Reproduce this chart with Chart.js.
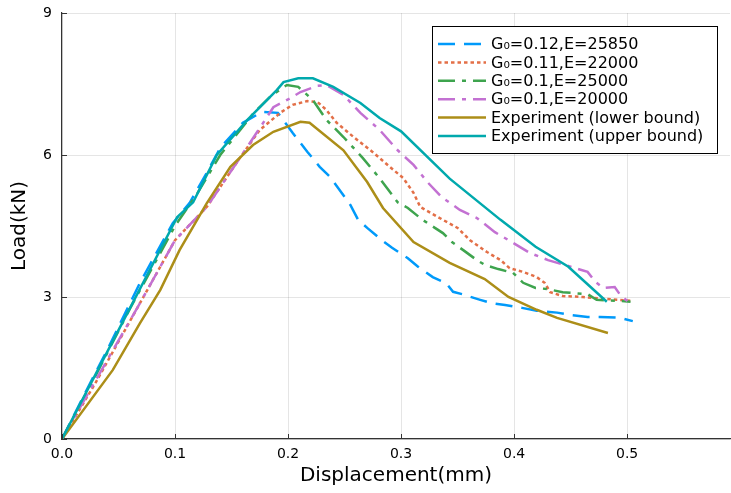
<!DOCTYPE html>
<html>
<head>
<meta charset="utf-8">
<script src="https://cdn.jsdelivr.net/npm/chart.js@4/dist/chart.umd.min.js"></script>
<style>
html,body{margin:0;padding:0;background:#fff;}
#c{display:block;}
</style>
</head>
<body>
<canvas id="c" width="731" height="493"></canvas>
<script>
// ---- data ----
const seriesNames = ["G₀=0.12,E=25850", "G₀=0.11,E=22000", "G₀=0.1,E=25000", "G₀=0.1,E=20000", "Experiment (lower bound)", "Experiment (upper bound)"];

const blueX = [0, 0.02, 0.04, 0.069, 0.098, 0.113, 0.128, 0.14, 0.16, 0.177, 0.191, 0.204, 0.217, 0.228, 0.237, 0.255, 0.262, 0.27, 0.283, 0.292, 0.306, 0.315, 0.328, 0.34, 0.346, 0.354, 0.37, 0.38, 0.392, 0.407, 0.42, 0.438, 0.45, 0.465, 0.476, 0.494, 0.505];
const blueY = [0, 0.95, 1.88, 3.3, 4.56, 4.99, 5.62, 6.15, 6.68, 6.91, 6.89, 6.47, 6.07, 5.75, 5.54, 4.95, 4.63, 4.46, 4.2, 4.04, 3.82, 3.64, 3.42, 3.29, 3.11, 3.06, 2.94, 2.87, 2.83, 2.77, 2.71, 2.67, 2.62, 2.58, 2.58, 2.56, 2.49];

const orangeX = [0, 0.03, 0.069, 0.1, 0.128, 0.158, 0.175, 0.193, 0.204, 0.217, 0.226, 0.234, 0.243, 0.258, 0.275, 0.29, 0.302, 0.311, 0.317, 0.326, 0.337, 0.35, 0.361, 0.376, 0.388, 0.396, 0.408, 0.42, 0.427, 0.432, 0.443, 0.461, 0.491, 0.503];
const orangeY = [0, 1.2, 2.87, 4.2, 4.9, 5.96, 6.53, 6.89, 7.06, 7.14, 7.12, 6.95, 6.68, 6.38, 6.06, 5.75, 5.51, 5.2, 4.9, 4.78, 4.63, 4.46, 4.2, 3.95, 3.78, 3.61, 3.53, 3.42, 3.3, 3.1, 3.02, 3.0, 2.94, 2.92];

const greenX = [0, 0.03, 0.06, 0.1, 0.12, 0.14, 0.17, 0.185, 0.199, 0.209, 0.222, 0.234, 0.249, 0.266, 0.281, 0.297, 0.306, 0.319, 0.337, 0.345, 0.355, 0.367, 0.374, 0.386, 0.399, 0.408, 0.419, 0.429, 0.443, 0.465, 0.473, 0.491, 0.503];
const greenY = [0, 1.35, 2.75, 4.5, 5.2, 6.0, 6.9, 7.25, 7.48, 7.44, 7.16, 6.74, 6.38, 5.94, 5.51, 5.0, 4.88, 4.63, 4.35, 4.16, 3.99, 3.78, 3.68, 3.59, 3.51, 3.3, 3.19, 3.17, 3.1, 3.06, 2.94, 2.92, 2.9];

const purpleX = [0, 0.03, 0.069, 0.1, 0.128, 0.158, 0.175, 0.187, 0.202, 0.211, 0.226, 0.234, 0.249, 0.264, 0.281, 0.297, 0.311, 0.324, 0.336, 0.352, 0.367, 0.383, 0.398, 0.414, 0.43, 0.45, 0.465, 0.472, 0.479, 0.489, 0.494, 0.501];
const purpleY = [0, 1.25, 2.87, 4.2, 4.9, 5.96, 6.57, 7.01, 7.2, 7.33, 7.46, 7.48, 7.27, 6.89, 6.53, 6.1, 5.79, 5.41, 5.11, 4.84, 4.67, 4.37, 4.16, 3.93, 3.78, 3.64, 3.53, 3.32, 3.19, 3.21, 3.04, 2.9];

const lowerX = [0, 0.045, 0.069, 0.087, 0.104, 0.128, 0.149, 0.169, 0.187, 0.211, 0.219, 0.249, 0.27, 0.284, 0.311, 0.343, 0.374, 0.395, 0.42, 0.438, 0.483];
const lowerY = [0, 1.46, 2.45, 3.15, 3.99, 4.98, 5.75, 6.21, 6.49, 6.7, 6.68, 6.1, 5.43, 4.88, 4.16, 3.72, 3.38, 3.0, 2.73, 2.56, 2.24];

const upperX = [0, 0.05, 0.102, 0.116, 0.137, 0.164, 0.19, 0.196, 0.209, 0.222, 0.24, 0.264, 0.281, 0.3, 0.343, 0.388, 0.419, 0.448, 0.482];
const upperY = [0, 2.3, 4.69, 5.0, 6.0, 6.74, 7.37, 7.54, 7.62, 7.62, 7.44, 7.1, 6.78, 6.5, 5.5, 4.63, 4.06, 3.64, 2.9];

const xTicks = [0, 0.1, 0.2, 0.3, 0.4, 0.5];
const yTicks = [0, 3, 6, 9];

// ---- styles ----
const colors = ["#009AFA", "#E36F47", "#3EA44E", "#C371D2", "#AC8E18", "#00A9AD"];
const dashes = [[17, 9], [3.5, 3], [17, 7, 4, 7], [17, 7, 4, 7], [], []];
const FONT = "'DejaVu Sans', sans-serif";

function pts(xs, ys) { return xs.map((x, i) => ({x: x, y: ys[i]})); }
const allX = [blueX, orangeX, greenX, purpleX, lowerX, upperX];
const allY = [blueY, orangeY, greenY, purpleY, lowerY, upperY];

const datasets = seriesNames.map((name, i) => ({
  label: name,
  data: pts(allX[i], allY[i]),
  borderColor: colors[i],
  backgroundColor: colors[i],
  borderWidth: 2.5,
  borderDash: dashes[i],
  pointRadius: 0,
  tension: 0,
  fill: false,
  order: 5 - i
}));

const legendPlugin = {
  id: 'boxLegend',
  afterDraw(chart) {
    const ctx = chart.ctx;
    const x0 = 432, y0 = 26, w = 285, h = 127;
    ctx.save();
    ctx.fillStyle = '#fff';
    ctx.fillRect(x0, y0, w, h);
    ctx.strokeStyle = '#000';
    ctx.lineWidth = 1;
    ctx.strokeRect(x0 + 0.5, y0 + 0.5, w, h);
    ctx.font = "16px " + FONT;
    ctx.textBaseline = 'middle';
    ctx.textAlign = 'left';
    seriesNames.forEach((name, i) => {
      const cy = 44 + i * 18.4;
      ctx.beginPath();
      ctx.setLineDash(dashes[i]);
      ctx.strokeStyle = colors[i];
      ctx.lineWidth = 2.5;
      ctx.moveTo(438, cy);
      ctx.lineTo(486, cy);
      ctx.stroke();
      ctx.setLineDash([]);
      ctx.fillStyle = '#000';
      ctx.fillText(name, 491, cy + 1);
    });
    ctx.restore();
  }
};

const tickPlugin = {
  id: 'inTicks',
  afterDraw(chart) {
    const ctx = chart.ctx;
    const xs = chart.scales.x, ys = chart.scales.y;
    const a = chart.chartArea;
    ctx.save();
    ctx.strokeStyle = '#333';
    ctx.lineWidth = 1;
    xTicks.forEach(v => {
      const px = Math.round(xs.getPixelForValue(v)) + 0.5;
      ctx.beginPath(); ctx.moveTo(px, a.bottom); ctx.lineTo(px, a.bottom - 5); ctx.stroke();
    });
    yTicks.forEach(v => {
      const py = Math.round(ys.getPixelForValue(v)) + 0.5;
      ctx.beginPath(); ctx.moveTo(a.left, py); ctx.lineTo(a.left + 5, py); ctx.stroke();
    });
    ctx.restore();
  }
};

new Chart(document.getElementById('c'), {
  type: 'line',
  data: { datasets: datasets },
  options: {
    responsive: false,
    animation: false,
    devicePixelRatio: 1,
    layout: { padding: { top: 13, right: 1, left: 0, bottom: 0 } },
    plugins: { legend: { display: false }, tooltip: { enabled: false } },
    scales: {
      x: {
        type: 'linear',
        min: 0, max: 0.591,
        afterFit(s) { s.height = 54; s.paddingLeft = 0; s.paddingRight = 0; },
        afterBuildTicks(s) { s.ticks = xTicks.map(v => ({value: v})); },
        ticks: {
          padding: 7,
          color: '#000',
          font: { family: FONT, size: 14 },
          callback: v => Number(v).toFixed(1),
          maxRotation: 0
        },
        grid: { color: 'rgba(0,0,0,0.1)', lineWidth: 1, drawTicks: false },
        border: { color: '#333', width: 1.2 },
        title: { display: true, text: 'Displacement(mm)', color: '#000', font: { family: FONT, size: 20 }, padding: { top: 0, bottom: 5 } }
      },
      y: {
        type: 'linear',
        min: 0, max: 9,
        afterFit(s) { s.width = 62; s.paddingTop = 0; s.paddingBottom = 0; },
        afterBuildTicks(s) { s.ticks = yTicks.map(v => ({value: v})); },
        ticks: {
          padding: 10,
          color: '#000',
          font: { family: FONT, size: 14 },
          callback: v => String(v)
        },
        grid: { color: 'rgba(0,0,0,0.1)', lineWidth: 1, drawTicks: false },
        border: { color: '#333', width: 1.2 },
        title: { display: true, text: 'Load(kN)', color: '#000', font: { family: FONT, size: 20 }, padding: { top: 8, bottom: 0 } }
      }
    }
  },
  plugins: [legendPlugin, tickPlugin]
});
</script>
</body>
</html>
